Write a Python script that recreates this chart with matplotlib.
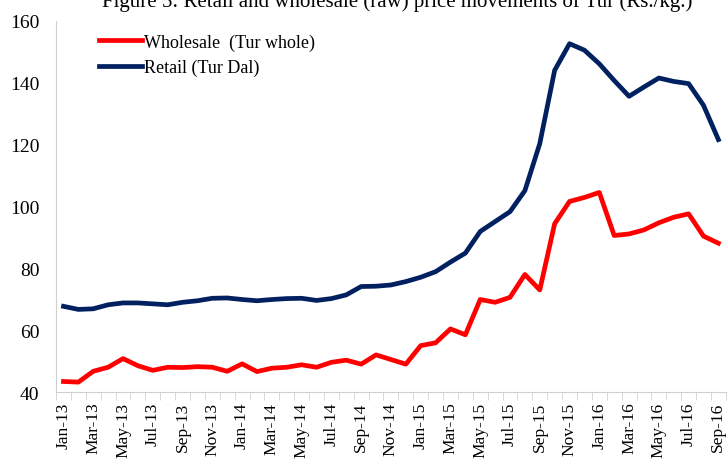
import numpy as np
import matplotlib.pyplot as plt
from matplotlib.ticker import FixedLocator

# meses de Jan-13 a Sep-16
meses = ["Jan", "Feb", "Mar", "Apr", "May", "Jun", "Jul", "Aug", "Sep", "Oct", "Nov", "Dec"]
etiquetas = []
for anio in ["13", "14", "15", "16"]:
    for m in meses:
        etiquetas.append(m + "-" + anio)
etiquetas = etiquetas[:45]

mayorista = [43.4, 43.2, 46.7, 48.0, 50.8, 48.5, 47.0, 48.0, 47.9, 48.2, 48.0, 46.7,
             49.1, 46.6, 47.7, 48.0, 48.8, 48.0, 49.6, 50.3, 49.0, 52.0, 50.5, 49.0,
             55.0, 55.9, 60.4, 58.5, 69.9, 69.0, 70.6, 78.0, 73.0, 94.4, 101.6, 102.9,
             104.5, 90.6, 91.1, 92.4, 94.7, 96.5, 97.6, 90.4, 88.1]
minorista = [67.7, 66.7, 66.9, 68.2, 68.8, 68.8, 68.5, 68.2, 69.0, 69.5, 70.3, 70.4,
             69.9, 69.5, 69.9, 70.2, 70.3, 69.6, 70.2, 71.4, 74.1, 74.2, 74.6, 75.7,
             77.1, 78.9, 82.0, 84.9, 91.9, 95.1, 98.3, 105.1, 120.3, 144.0, 152.6, 150.5,
             146.1, 140.7, 135.6, 138.6, 141.5, 140.4, 139.7, 132.7, 121.6]

plt.rcParams['font.family'] = ['Liberation Serif', 'DejaVu Serif']

fig = plt.figure(figsize=(7.28, 4.64), dpi=100)
ax = fig.add_axes([0.077, 0.153, 0.92, 0.80])

x = np.arange(len(etiquetas))
ax.plot(x, mayorista, color="#FF0000", lw=3.4, label="Wholesale  (Tur whole)", solid_joinstyle="round")
ax.plot(x, minorista, color="#002060", lw=3.4, label="Retail (Tur Dal)", solid_joinstyle="round")

ax.set_xlim(-0.5, len(etiquetas) - 0.5)
ax.set_ylim(40, 160)
ax.set_yticks(np.arange(40, 161, 20))

ax.set_xticks(x[::2])
ax.set_xticklabels(etiquetas[::2], rotation=90, fontsize=12.5)
ax.xaxis.set_minor_locator(FixedLocator(np.arange(-0.5, len(etiquetas), 1)))
ax.tick_params(axis="x", which="major", length=0, pad=7)
ax.tick_params(axis="x", which="minor", length=6, color="#D0D0D0")
ax.tick_params(axis="y", length=0, labelsize=14, pad=12)

for lado in ["top", "right"]:
    ax.spines[lado].set_visible(False)
ax.spines["left"].set_color("#D0D0D0")
ax.spines["bottom"].set_color("#D0D0D0")

ax.legend(loc="upper left", bbox_to_anchor=(0.04, 1.01), frameon=False, fontsize=13,
          handlelength=2.4, handletextpad=0.1, labelspacing=0.45)

fig.text(0.545, 0.995, "Figure 5: Retail and wholesale (raw) price movements of Tur (Rs./kg.)",
         ha="center", va="center", fontsize=15)

fig.savefig("out.png", dpi=100)
